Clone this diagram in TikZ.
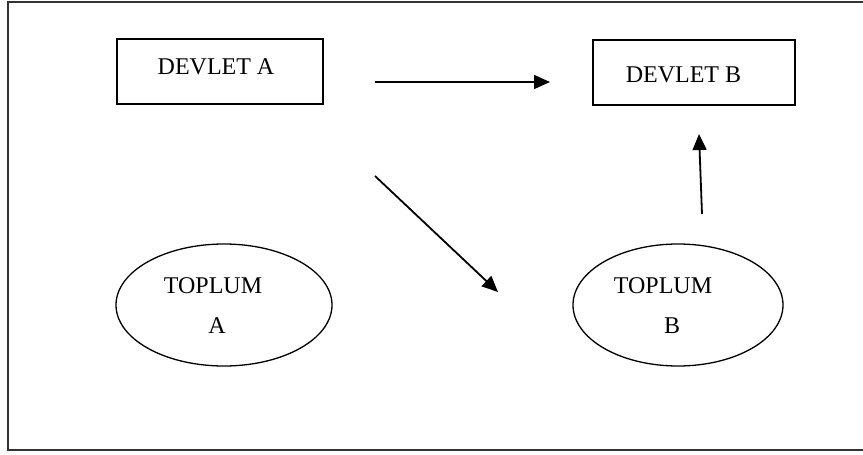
\documentclass[tikz,border=0pt]{standalone}
\usepackage{fontspec}
\setmainfont{Liberation Serif}
\usetikzlibrary{arrows.meta}
\begin{document}
\begin{tikzpicture}[x=1pt,y=-1pt,
  frame/.style={line width=1.6pt,draw=black!80},
  boxshape/.style={draw,line width=1.3pt,rectangle,inner sep=0pt},
  ovalshape/.style={draw,line width=1.3pt,ellipse,inner sep=0pt},
  lbl/.style={anchor=base,inner sep=0pt,font=\fontsize{24}{28}\selectfont},
  arr/.style={line width=1.8pt,-{Triangle[length=16pt,width=14pt]}}]
\useasboundingbox (0,0) rectangle (863,455);
\path[fill=white] (0,0) rectangle (863,455);
\draw[frame] (864,2) -- (8,2) -- (8,450) -- (864,450);
% boxes
\node[boxshape,minimum width=206pt,minimum height=65pt] (da) at (220,71.5) {};
\node[boxshape,minimum width=202pt,minimum height=65pt] (db) at (694,72.5) {};
\node[lbl] (daT) at (216,74) {DEVLET A};
\node[lbl] (dbT) at (683.5,82) {DEVLET B};
% ellipses
\draw[line width=1.3pt] (224,305) ellipse [x radius=108, y radius=61];
\draw[line width=1.3pt] (678,305) ellipse [x radius=105, y radius=61];
\coordinate (ta) at (224,305);
\coordinate (tb) at (678,305);
\node[lbl] (ta1) at (213,293) {TOPLUM};
\node[lbl] (ta2) at (217,333) {A};
\node[lbl] (tb1) at (663,293) {TOPLUM};
\node[lbl] (tb2) at (672,333) {B};
% arrows
\coordinate (h1) at (375,82);
\coordinate (h2) at (550,82);
\coordinate (d1) at (375,176);
\coordinate (d2) at (498,292);
\coordinate (v1) at (702,214);
\coordinate (v2) at (699,134);
\draw[arr] (h1) -- (h2);
\draw[arr] (d1) -- (d2);
\draw[arr] (v1) -- (v2);
\end{tikzpicture}
\end{document}
